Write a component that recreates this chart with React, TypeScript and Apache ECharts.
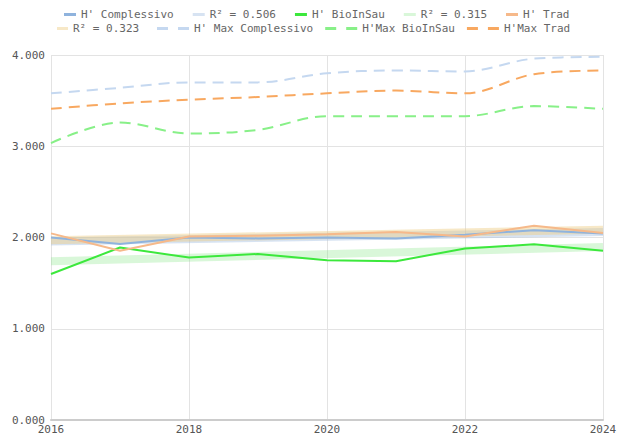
import React, { useEffect, useRef } from "react";
import * as echarts from "echarts";

const years = [2016, 2017, 2018, 2019, 2020, 2021, 2022, 2023, 2024];
const hComplessivo = [2.0, 1.93, 2.0, 1.99, 2.0, 1.99, 2.03, 2.08, 2.045];
const hBioInSau = [1.6, 1.89, 1.78, 1.82, 1.75, 1.74, 1.88, 1.925, 1.855];
const hTrad = [2.045, 1.855, 2.01, 2.02, 2.035, 2.06, 2.01, 2.13, 2.05];
const hMaxComplessivo = [3.58, 3.64, 3.7, 3.7, 3.8, 3.83, 3.82, 3.96, 3.98];
const hMaxBioInSau = [3.035, 3.26, 3.14, 3.18, 3.33, 3.33, 3.33, 3.44, 3.41];
const hMaxTrad = [3.41, 3.47, 3.51, 3.54, 3.58, 3.61, 3.58, 3.79, 3.83];
const trendYears = [2016, 2024];
const trendComplessivo = [1.955, 2.06];
const trendBioInSau = [1.74, 1.895];
const trendTrad = [1.97, 2.085];
const yTicks = { min: 0, max: 4, interval: 1 };
const xTicks = { min: 2016, max: 2024, interval: 2 };

const row1 = ["H' Complessivo", "R² = 0.506", "H' BioInSau", "R² = 0.315", "H' Trad"];
const row2a = ["R² = 0.323"];
const row2b = ["H' Max Complessivo", "H'Max BioInSau", "H'Max Trad"];

const MONO = "'DejaVu Sans Mono', monospace";

const pairs = (xs: number[], ys: number[]) => xs.map((x, i) => [x, ys[i]]);

export default function App() {
  const ref = useRef<HTMLDivElement>(null);
  useEffect(() => {
    document.body.style.margin = "0";
    const chart = echarts.init(ref.current!, undefined, { renderer: "svg" });
    const textStyle = { color: "#666", fontFamily: MONO, fontSize: 11 };
    const dashIcon = "path://M0,0H11V3H0ZM21,0H32V3H21Z";
    const solid = (name: string, data: number[], color: string) => ({
      name,
      type: "line",
      data: pairs(years, data),
      symbol: "none",
      color,
      lineStyle: { width: 2, color },
      z: 5,
    });
    const trend = (name: string, data: number[], color: string) => ({
      name,
      type: "line",
      data: pairs(trendYears, data),
      symbol: "none",
      color,
      lineStyle: { width: 8, color },
      z: 2,
    });
    const dashed = (name: string, data: number[], color: string) => ({
      name,
      type: "line",
      data: pairs(years, data),
      symbol: "none",
      smooth: 0.35,
      color,
      lineStyle: { width: 2, color, type: [11, 7] },
      z: 4,
    });
    chart.setOption({
      animation: false,
      legend: [
        {
          data: row1,
          left: 59,
          top: 4,
          itemWidth: 12,
          itemHeight: 3,
          itemGap: 19,
          icon: "rect",
          selectedMode: false,
          textStyle,
          itemStyle: { borderWidth: 0 },
        },
        {
          data: row2a,
          left: 52,
          top: 18,
          itemWidth: 11,
          itemHeight: 3,
          icon: "rect",
          selectedMode: false,
          textStyle,
          itemStyle: { borderWidth: 0 },
        },
        {
          data: row2b,
          left: 152,
          top: 18,
          itemWidth: 32,
          itemHeight: 3,
          itemGap: 12,
          icon: dashIcon,
          selectedMode: false,
          textStyle,
          itemStyle: { borderWidth: 0 },
        },
      ],
      grid: { left: 51, right: 30, top: 55, bottom: 19, containLabel: false },
      xAxis: {
        type: "value",
        ...xTicks,
        axisLine: { show: true, lineStyle: { color: "#ccc", width: 2 } },
        axisTick: { show: false },
        axisLabel: {
          color: "#555",
          fontFamily: MONO,
          fontSize: 11,
          margin: 4,
          formatter: (v: number) => String(v),
        },
        splitLine: { show: true, lineStyle: { color: "#e3e3e3", width: 1 } },
      },
      yAxis: {
        type: "value",
        ...yTicks,
        axisLine: { show: false },
        axisTick: { show: false },
        axisLabel: {
          color: "#555",
          fontFamily: MONO,
          fontSize: 11,
          margin: 6,
          formatter: (v: number) => v.toFixed(3),
        },
        splitLine: { show: true, lineStyle: { color: "#e3e3e3", width: 1 } },
      },
      series: [
        solid("H' Complessivo", hComplessivo, "#8fb3dd"),
        trend("R² = 0.506", trendComplessivo, "rgba(160,188,225,0.42)"),
        solid("H' BioInSau", hBioInSau, "#3ce83c"),
        trend("R² = 0.315", trendBioInSau, "rgba(130,230,130,0.3)"),
        solid("H' Trad", hTrad, "#f6b98a"),
        trend("R² = 0.323", trendTrad, "rgba(238,205,130,0.45)"),
        dashed("H' Max Complessivo", hMaxComplessivo, "#c5d8f0"),
        dashed("H'Max BioInSau", hMaxBioInSau, "#88f088"),
        dashed("H'Max Trad", hMaxTrad, "#f8a860"),
      ],
    });
    return () => chart.dispose();
  }, []);
  return <div ref={ref} style={{ width: 633, height: 439 }} />;
}
